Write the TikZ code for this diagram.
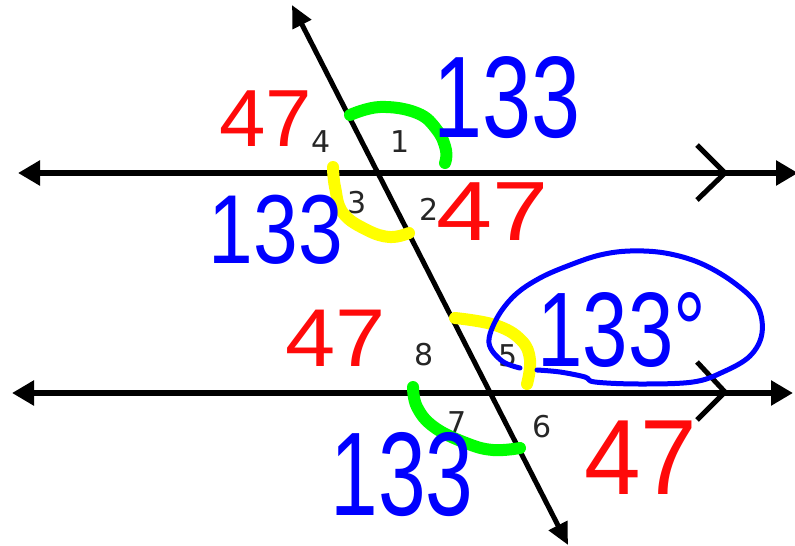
\documentclass[tikz,border=0pt]{standalone}
\usepackage{fontspec}
\usepackage{graphicx}
\usetikzlibrary{arrows.meta}
\newfontfamily\handfont{Liberation Sans}
\newfontfamily\labfont{DejaVu Sans}
\newcommand{\myhsize}[1]{\handfont\fontsize{#1}{#1}\selectfont}
\definecolor{hred}{RGB}{255,10,10}
\definecolor{hblue}{RGB}{0,0,255}
\definecolor{hgreen}{RGB}{0,255,0}
\definecolor{hyellow}{RGB}{255,255,0}
\tikzset{
  parline/.style={line width=5.5pt, {Triangle[length=22pt,width=24pt]}-{Triangle[length=22pt,width=24pt]}},
  transline/.style={line width=5pt, {Triangle[length=22pt,width=20pt]}-{Triangle[length=22pt,width=20pt]}},
  chevron/.style={line width=5pt, line join=miter},
  lab/.style={inner sep=0pt, text=black!85, font=\labfont\fontsize{30pt}{30pt}\selectfont},
  hnum/.style={inner sep=0pt},
  hilite/.style={line width=12pt, line cap=round, line join=round},
  loop/.style={draw=hblue, line width=5pt, line cap=round, line join=round}
}
\begin{document}
\begin{tikzpicture}[x=1pt,y=-1pt]
\path[use as bounding box, fill=white] (0,0) rectangle (795,546);
% end points
\coordinate (uL) at (18,173);
\coordinate (uR) at (798,173);
\coordinate (lL) at (12,393);
\coordinate (lR) at (793,393);
\coordinate (tT) at (292,5);
\coordinate (tB) at (568,545);
\draw[parline] (uL) -- (uR);
\draw[parline] (lL) -- (lR);
\draw[transline] (tT) -- (tB);
% parallel marks
\coordinate (cu1) at (697,145); \coordinate (cu2) at (725,173); \coordinate (cu3) at (697,200);
\coordinate (cl1) at (697,362); \coordinate (cl2) at (725,392); \coordinate (cl3) at (697,420);
\draw[chevron] (cu1) -- (cu2) -- (cu3);
\draw[chevron] (cl1) -- (cl2) -- (cl3);
% angle labels
\node[lab] (n4) at (321,142) {4};
\node[lab] (n1) at (400,142) {1};
\node[lab] (n3) at (357,203) {3};
\node[lab] (n2) at (429,209) {2};
\node[lab] (n8) at (424,355) {8};
\node[lab] (n5) at (508,356) {5};
\node[lab] (n7) at (457,423) {7};
\node[lab] (n6) at (542,427) {6};
% highlight arcs
\draw[hilite, hgreen] plot[smooth, tension=0.7] coordinates {(350,115) (380,107) (417,113) (437,130) (446,150) (445,163)};
\draw[hilite, hyellow] plot[smooth, tension=0.7] coordinates {(333,167) (335,187) (343,213) (367,230) (390,237) (409,233)};
\draw[hilite, hyellow] plot[smooth, tension=0.7] coordinates {(455,318) (495,325) (521,340) (530,360) (527,384)};
\draw[hilite, hgreen] plot[smooth, tension=0.7] coordinates {(413,387) (417,407) (434,427) (466,443) (493,450) (520,448)};
% handwritten values
\node[hnum, text=hred, font=\myhsize{81pt}] (r1) at (266,119) {\scalebox{1.03}[1]{47}};
\node[hnum, text=hred, font=\myhsize{84pt}] (r2) at (493,212) {\scalebox{1.2}[1]{47}};
\node[hnum, text=hred, font=\myhsize{82pt}] (r3) at (336,338) {\scalebox{1.1}[1]{47}};
\node[hnum, text=hred, font=\myhsize{107pt}] (r4) at (641,458) {\scalebox{0.95}[1]{47}};
\node[hnum, text=hblue, font=\myhsize{116pt}] (b1) at (507,98) {\scalebox{0.76}[1]{133}};
\node[hnum, text=hblue, font=\myhsize{98pt}] (b2) at (276,230) {\scalebox{0.82}[1]{133}};
\node[hnum, text=hblue, font=\myhsize{119pt}] (b3) at (402,475) {\scalebox{0.72}[1]{133}};
\node[hnum, text=hblue, font=\myhsize{106pt}] (b4) at (622,330) {\scalebox{0.77}[1]{133°}};
% loop round the answer
\draw[loop] plot[smooth, tension=0.6] coordinates {(520,368) (502,361) (489,343) (497,318) (515,295) (540,278) (570,265) (600,255) (630,251) (665,253) (700,263) (733,282) (757,305) (762,333) (750,356) (723,372) (693,382) (640,384) (595,382) (585,377) (560,372) (537,370)};
\end{tikzpicture}
\end{document}
